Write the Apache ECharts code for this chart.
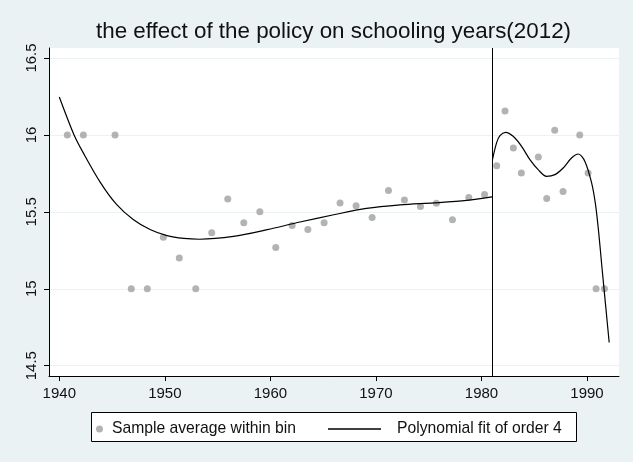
<!DOCTYPE html>
<html>
<head>
<meta charset="utf-8">
<script src="https://cdn.jsdelivr.net/npm/echarts@6/dist/echarts.min.js"></script>
<style>
  html, body { margin: 0; padding: 0; background: #EAF2F3; }
  #chart { width: 633px; height: 462px; }
</style>
</head>
<body>
<div id="chart"></div>
<script>
// Binned sample averages of schooling years by birth year
const binYearsBefore = [1940.76, 1942.28, 1945.28, 1946.82, 1948.34, 1949.86, 1951.37, 1952.93,
  1954.44, 1955.96, 1957.48, 1959.0, 1960.51, 1962.06, 1963.55, 1965.09, 1966.6, 1968.12,
  1969.64, 1971.19, 1972.7, 1974.22, 1975.73, 1977.25, 1978.8, 1980.29];
const binMeansBefore = [16.0, 16.0, 16.0, 15.0, 15.0, 15.335, 15.2, 15.0,
  15.364, 15.584, 15.429, 15.5, 15.268, 15.411, 15.385, 15.429, 15.558, 15.54,
  15.464, 15.638, 15.577, 15.535, 15.556, 15.449, 15.594, 15.612];
const binYearsAfter = [1981.44, 1982.23, 1983.02, 1983.78, 1985.39, 1986.18, 1986.94, 1987.73,
  1989.31, 1990.1, 1990.86, 1991.65];
const binMeansAfter = [15.80, 16.156, 15.915, 15.753, 15.857, 15.586, 16.03, 15.633,
  16.0, 15.753, 15.0, 15.0];

// Order-4 polynomial fit, sampled along each side of the cutoff
const fitYearsBefore = [1940.0, 1941.4, 1942.3, 1943.9, 1945.4, 1947.0, 1948.6, 1950.2,
  1951.8, 1953.3, 1956.5, 1959.7, 1962.8, 1966.0, 1969.1, 1972.3, 1975.5, 1978.6, 1981.0];
const fitValuesBefore = [16.247, 16.0, 15.88, 15.69, 15.55, 15.45, 15.385, 15.345,
  15.327, 15.322, 15.34, 15.384, 15.434, 15.481, 15.522, 15.545, 15.558, 15.574, 15.597];
const fitYearsAfter = [1981.04, 1981.43, 1981.75, 1982.28, 1983.0, 1983.8, 1984.59, 1985.37,
  1986.16, 1986.96, 1987.74, 1988.53, 1989.17, 1989.8, 1990.43, 1990.8, 1991.1, 1991.4, 1991.75, 1992.1];
const fitValuesAfter = [15.839, 15.948, 15.995, 16.017, 15.991, 15.926, 15.839, 15.774,
  15.731, 15.742, 15.785, 15.85, 15.876, 15.828, 15.69, 15.55, 15.37, 15.15, 14.9, 14.651];

const cutoffYear = 1981;
const xTicks = [1940, 1950, 1960, 1970, 1980, 1990];
const yTicks = [14.5, 15, 15.5, 16, 16.5];

const SCATTER_NAME = 'Sample average within bin';
const FIT_NAME = 'Polynomial fit of order 4';
const FONT = '"Liberation Sans", Arial, sans-serif';

const zip = (xs, ys) => xs.map((x, i) => [x, ys[i]]);

const chart = echarts.init(document.getElementById('chart'), null, { renderer: 'canvas' });

chart.setOption({
  backgroundColor: '#EAF2F3',
  animation: false,
  title: {
    text: 'the effect of the policy on schooling years(2012)',
    left: 96,
    top: 21,
    padding: 0,
    textStyle: { fontFamily: FONT, fontSize: 22.4, fontWeight: 'normal', color: '#111' }
  },
  grid: {
    left: 49, right: 14, top: 48, bottom: 86,
    show: true, backgroundColor: '#ffffff', borderWidth: 0
  },
  xAxis: {
    type: 'value',
    min: 1939.024,
    max: 1993.03,
    axisLine: { show: true, lineStyle: { color: '#000', width: 1 } },
    axisTick: { show: true, length: 5, customValues: xTicks, lineStyle: { color: '#000' } },
    axisLabel: {
      customValues: xTicks, margin: 10,
      fontFamily: FONT, fontSize: 15, color: '#111',
      formatter: v => String(v)
    },
    splitLine: { show: false }
  },
  yAxis: {
    type: 'value',
    min: 14.433,
    max: 16.565,
    axisLine: { show: true, lineStyle: { color: '#000', width: 1 } },
    axisTick: { show: true, length: 5, customValues: yTicks, lineStyle: { color: '#000' } },
    axisLabel: {
      customValues: yTicks, rotate: 90, margin: 10,
      fontFamily: FONT, fontSize: 15, color: '#111',
      formatter: v => String(v)
    },
    splitLine: { show: true, lineStyle: { color: '#EAF2F3', width: 1 } }
  },
  legend: [
    {
      data: [SCATTER_NAME],
      left: 96, top: 421,
      padding: 0,
      icon: 'circle',
      itemWidth: 7, itemHeight: 7,
      textStyle: { fontFamily: FONT, fontSize: 15.7, color: '#111', padding: [0, 0, 0, 4] }
    },
    {
      data: [FIT_NAME],
      left: 328, top: 421,
      padding: 0,
      icon: 'rect',
      itemWidth: 53, itemHeight: 1.3,
      itemStyle: { color: '#000' },
      textStyle: { fontFamily: FONT, fontSize: 15.7, color: '#111', padding: [0, 0, 0, 11] }
    }
  ],
  graphic: [
    {
      type: 'rect',
      z: 1,
      shape: { x: 91.5, y: 412.5, width: 485, height: 29 },
      style: { fill: '#ffffff', stroke: '#000', lineWidth: 1 }
    }
  ],
  series: [
    {
      name: SCATTER_NAME,
      type: 'scatter',
      symbol: 'circle',
      symbolSize: 7,
      itemStyle: { color: '#a0a0a0' },
      data: zip(binYearsBefore, binMeansBefore).concat(zip(binYearsAfter, binMeansAfter)),
      z: 3
    },
    {
      name: FIT_NAME,
      type: 'line',
      showSymbol: false,
      symbol: 'none',
      smooth: 0.3,
      lineStyle: { color: '#000', width: 1.2 },
      itemStyle: { color: '#000' },
      data: zip(fitYearsBefore, fitValuesBefore),
      markLine: {
        silent: true,
        symbol: 'none',
        label: { show: false },
        lineStyle: { color: '#000', type: 'solid', width: 1 },
        data: [{ xAxis: cutoffYear }]
      },
      z: 4
    },
    {
      name: FIT_NAME,
      type: 'line',
      showSymbol: false,
      symbol: 'none',
      smooth: 0.3,
      lineStyle: { color: '#000', width: 1.2 },
      itemStyle: { color: '#000' },
      data: zip(fitYearsAfter, fitValuesAfter),
      z: 4
    }
  ]
});
</script>
</body>
</html>
